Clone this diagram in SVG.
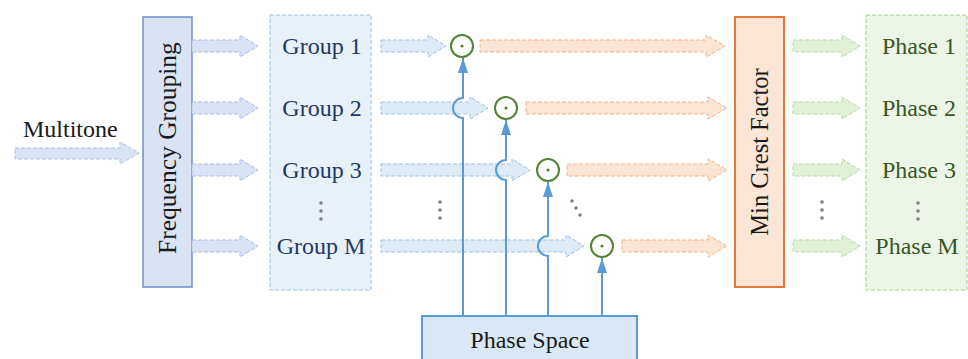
<svg xmlns="http://www.w3.org/2000/svg" width="968" height="359" viewBox="0 0 968 359">
  <style>
    text { font-family: "Liberation Serif", "Times New Roman", serif; font-size: 24px; }
    .blk { fill: #1a1a1a; }
    .grp { fill: #1f3864; text-anchor: middle; }
    .ph { fill: #385723; text-anchor: middle; }
    .a-blue1 { fill: #dae3f3; stroke: #a9bde6; stroke-width: 1; stroke-dasharray: 4 2; }
    .a-blue2 { fill: #deebf7; stroke: #9dc3e6; stroke-width: 1; stroke-dasharray: 4 2; }
    .a-orange { fill: #fbe5d6; stroke: #f4b183; stroke-width: 1; stroke-dasharray: 4 2; }
    .a-green { fill: #e2f0d9; stroke: #b8d9a2; stroke-width: 1; stroke-dasharray: 4 2; }
    .mult { fill: none; stroke: #548235; stroke-width: 2; }
    .mdot { fill: #548235; }
    .feed { fill: none; stroke: #5b9bd5; stroke-width: 2; }
    .dots { fill: #7f7f7f; }
  </style>
  <defs>
    <marker id="tip" viewBox="0 0 15 10" refX="15" refY="5" markerWidth="15" markerHeight="10" markerUnits="userSpaceOnUse" orient="auto">
      <path d="M0 0 L15 5 L0 10 Z" fill="#5b9bd5"/>
    </marker>
  </defs>

  <!-- input signal -->
  <g id="multitone">
    <text class="blk" x="23" y="137">Multitone</text>
    <polygon class="a-blue1" points="15,148 120,148 120,142 139,153 120,164 120,159 15,159"/>
  </g>

  <!-- frequency grouping block -->
  <g id="frequency-grouping">
    <rect x="143" y="17" width="49" height="270" fill="#dae3f3" stroke="#6d8ecb" stroke-width="1.5"/>
    <text class="blk" transform="translate(176,148) rotate(-90)" text-anchor="middle" style="font-size:25.5px">Frequency Grouping</text>
  </g>

  <!-- groups column -->
  <g id="groups">
    <rect x="270" y="15" width="101" height="275" fill="#e8f0fa" stroke="#9dc3e6" stroke-width="1" stroke-dasharray="4 2"/>
    <text class="grp" x="322" y="54">Group 1</text>
    <text class="grp" x="322" y="116">Group 2</text>
    <text class="grp" x="322" y="178">Group 3</text>
    <text class="grp" x="321" y="254">Group M</text>
    <circle class="dots" cx="321" cy="203" r="1.8"/>
    <circle class="dots" cx="321" cy="211" r="1.8"/>
    <circle class="dots" cx="321" cy="219" r="1.8"/>
  </g>

  <!-- multipliers -->
  <g id="mult-1"><circle class="mult" cx="462" cy="46" r="11"/><circle class="mdot" cx="462" cy="46" r="1.6"/></g>
  <g id="mult-2"><circle class="mult" cx="506" cy="108" r="11"/><circle class="mdot" cx="506" cy="108" r="1.6"/></g>
  <g id="mult-3"><circle class="mult" cx="548" cy="170" r="11"/><circle class="mdot" cx="548" cy="170" r="1.6"/></g>
  <g id="mult-m"><circle class="mult" cx="602" cy="246" r="11"/><circle class="mdot" cx="602" cy="246" r="1.6"/></g>

  <!-- phase space source -->
  <g id="phase-space">
    <rect x="422" y="316" width="215" height="60" fill="#dae8f5" stroke="#5b9bd5" stroke-width="2"/>
    <text class="blk" x="530" y="348" text-anchor="middle">Phase Space</text>
  </g>

  <!-- crest factor minimisation block -->
  <g id="min-crest-factor">
    <rect x="735" y="17" width="49" height="270" fill="#fbe5d6" stroke="#e07b39" stroke-width="2"/>
    <text class="blk" transform="translate(768,152) rotate(-90)" text-anchor="middle" style="font-size:24.5px">Min Crest Factor</text>
  </g>

  <!-- output phases column -->
  <g id="phases">
    <rect x="866" y="15" width="101" height="275" fill="#edf5e8" stroke="#a9d18e" stroke-width="1" stroke-dasharray="4 2"/>
    <text class="ph" x="919" y="54">Phase 1</text>
    <text class="ph" x="919" y="116">Phase 2</text>
    <text class="ph" x="919" y="178">Phase 3</text>
    <text class="ph" x="917" y="254">Phase M</text>
    <circle class="dots" cx="918" cy="203" r="1.8"/>
    <circle class="dots" cx="918" cy="211" r="1.8"/>
    <circle class="dots" cx="918" cy="219" r="1.8"/>
  </g>

  <!-- connectors -->
  <g id="connectors">
    <!-- grouping to groups -->
    <polygon class="a-blue1" points="192,40 240,40 240,35 258,46 240,57 240,52 192,52"/>
    <polygon class="a-blue1" points="192,102 240,102 240,97 258,108 240,119 240,114 192,114"/>
    <polygon class="a-blue1" points="192,164 240,164 240,159 258,170 240,181 240,176 192,176"/>
    <polygon class="a-blue1" points="192,240 240,240 240,235 258,246 240,257 240,252 192,252"/>

    <!-- groups to multipliers -->
    <polygon class="a-blue2" points="381,40 428,40 428,35 446,46 428,57 428,52 381,52"/>
    <polygon class="a-blue2" points="381,102 470,102 470,97 488,108 470,119 470,114 381,114"/>
    <polygon class="a-blue2" points="381,164 512,164 512,159 530,170 512,181 512,176 381,176"/>
    <polygon class="a-blue2" points="381,240 566,240 566,235 584,246 566,257 566,252 381,252"/>

    <!-- multipliers to min crest factor -->
    <polygon class="a-orange" points="480,40 706,40 706,35 725,46 706,57 706,52 480,52"/>
    <polygon class="a-orange" points="526,102 708,102 708,97 727,108 708,119 708,114 526,114"/>
    <polygon class="a-orange" points="567,164 708,164 708,159 727,170 708,181 708,176 567,176"/>
    <polygon class="a-orange" points="622,240 708,240 708,235 727,246 708,257 708,252 622,252"/>

    <!-- min crest factor to phases -->
    <polygon class="a-green" points="793,40 842,40 842,35 860,46 842,57 842,52 793,52"/>
    <polygon class="a-green" points="793,102 842,102 842,97 860,108 842,119 842,114 793,114"/>
    <polygon class="a-green" points="793,164 842,164 842,159 860,170 842,181 842,176 793,176"/>
    <polygon class="a-green" points="793,240 842,240 842,235 860,246 842,257 842,252 793,252"/>

    <!-- phase feeds with hop-overs -->
    <path class="feed" marker-end="url(#tip)" d="M463 316 L463 118 A10 10 0 0 1 463 98 L463 58"/>
    <path class="feed" marker-end="url(#tip)" d="M506 316 L506 180 A10 10 0 0 1 506 160 L506 120"/>
    <path class="feed" marker-end="url(#tip)" d="M548 316 L548 256 A10 10 0 0 1 548 236 L548 182"/>
    <path class="feed" marker-end="url(#tip)" d="M602 316 L602 258"/>

    <!-- ellipses -->
    <circle class="dots" cx="440" cy="202" r="1.8"/>
    <circle class="dots" cx="440" cy="210" r="1.8"/>
    <circle class="dots" cx="440" cy="218" r="1.8"/>
    <circle class="dots" cx="572" cy="201" r="1.8"/>
    <circle class="dots" cx="576" cy="208" r="1.8"/>
    <circle class="dots" cx="580" cy="215" r="1.8"/>
    <circle class="dots" cx="822" cy="202" r="1.8"/>
    <circle class="dots" cx="822" cy="210" r="1.8"/>
    <circle class="dots" cx="822" cy="218" r="1.8"/>
  </g>
</svg>
